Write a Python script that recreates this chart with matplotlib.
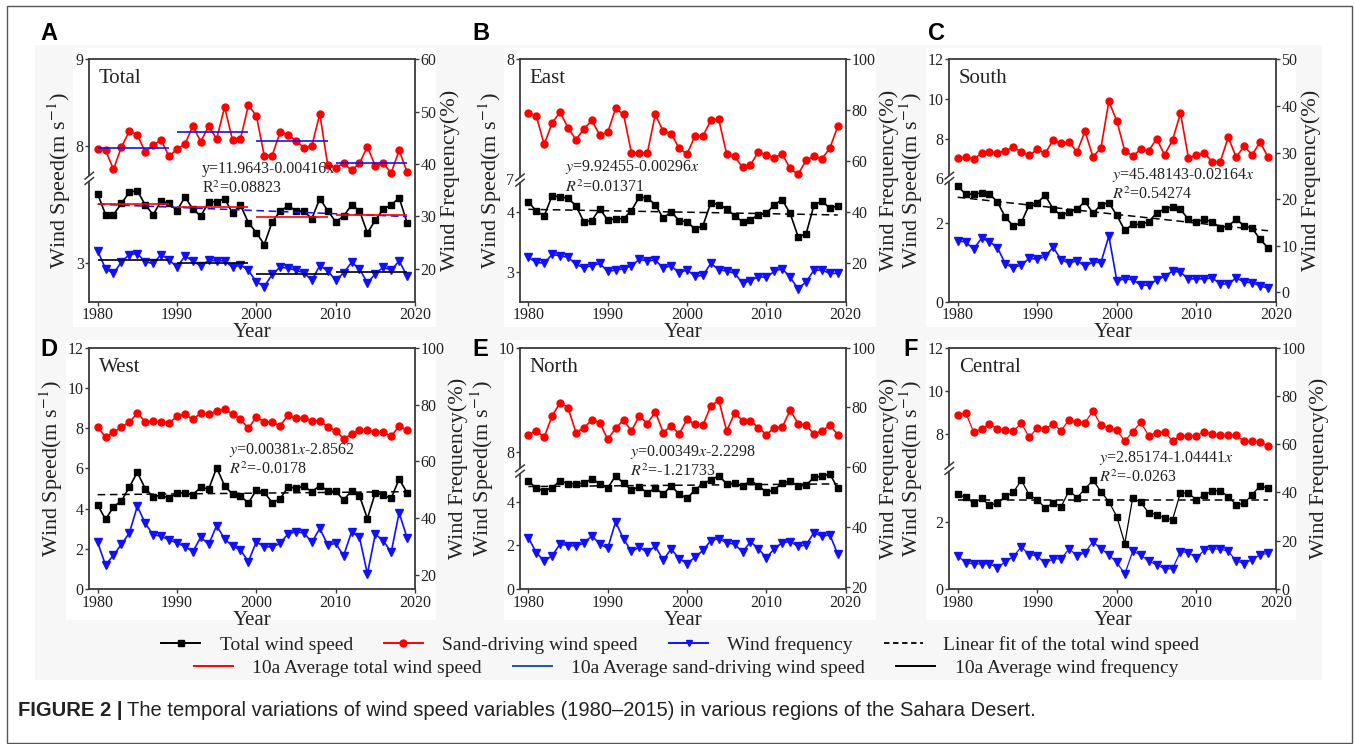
import numpy as np
import matplotlib
matplotlib.use("Agg")
import matplotlib.pyplot as plt
from matplotlib.lines import Line2D
from matplotlib.patches import Rectangle

plt.rcParams['font.family'] = ['Liberation Serif', 'DejaVu Serif']
plt.rcParams['mathtext.fontset'] = 'stix'

# ---------------- data ----------------
years = np.arange(1980, 2020)
fit_years = [1980, 2019]
decade_start = [1980, 1990, 2000, 2010]
decade_end = [1989, 1999, 2009, 2019]

# A Total
sand_A = [7.965, 7.95, 7.73, 7.99, 8.17, 8.13, 7.93, 8.01, 8.07, 7.88,
          7.965, 8.02, 8.23, 8.05, 8.23, 8.08, 8.45, 8.07, 8.08, 8.47,
          8.35, 7.89, 7.89, 8.16, 8.13, 8.06, 7.98, 8.0, 8.37, 7.78,
          7.75, 7.80, 7.72, 7.80, 7.99, 7.77, 7.80, 7.69, 7.95, 7.70]
total_A = [3.86, 3.60, 3.60, 3.74, 3.88, 3.90, 3.72, 3.60, 3.77, 3.74,
           3.65, 3.82, 3.67, 3.58, 3.76, 3.76, 3.80, 3.62, 3.72, 3.50,
           3.375, 3.225, 3.51, 3.64, 3.71, 3.65, 3.64, 3.55, 3.80, 3.65,
           3.51, 3.58, 3.72, 3.65, 3.37, 3.53, 3.67, 3.72, 3.81, 3.50]
freq_A = [23.4, 20.0, 19.1, 21.3, 22.7, 22.9, 21.3, 21.0, 22.7, 21.7,
          20.3, 22.4, 21.5, 20.5, 21.6, 21.5, 21.5, 20.3, 20.7, 19.7,
          17.5, 16.6, 18.9, 20.3, 20.1, 19.7, 19.2, 17.8, 20.6, 19.6,
          17.8, 19.2, 21.2, 20.0, 17.3, 19.0, 20.3, 19.7, 21.5, 18.6]
fit_A = [3.73, 3.575]
avg10_total_A = [3.73, 3.69, 3.575, 3.60]
avg10_sand_A = [7.98, 8.16, 8.06, 7.80]
avg10_freq_A = [21.65, 21.1, 19.05, 19.4]

# B East
sand_B = [7.55, 7.53, 7.29, 7.47, 7.56, 7.43, 7.33, 7.42, 7.49, 7.37,
          7.39, 7.59, 7.54, 7.22, 7.22, 7.22, 7.54, 7.40, 7.38, 7.26,
          7.21, 7.36, 7.36, 7.49, 7.50, 7.21, 7.19, 7.10, 7.12, 7.23,
          7.20, 7.18, 7.21, 7.09, 7.04, 7.16, 7.19, 7.17, 7.26, 7.44]
total_B = [4.18, 4.02, 3.94, 4.28, 4.26, 4.24, 4.11, 3.84, 3.86, 4.06,
           3.87, 3.89, 3.89, 4.03, 4.26, 4.24, 4.13, 3.90, 4.01, 3.86,
           3.84, 3.72, 3.77, 4.16, 4.13, 4.06, 3.94, 3.84, 3.87, 3.96,
           3.98, 4.13, 4.21, 3.98, 3.59, 3.63, 4.12, 4.19, 4.07, 4.11]
freq_B = [22.4, 20.4, 20.1, 23.5, 23.0, 22.4, 19.6, 18.4, 19.1, 20.0,
          16.9, 17.4, 17.9, 19.1, 21.6, 21.0, 21.3, 18.2, 19.1, 16.3,
          17.5, 15.0, 15.3, 20.0, 17.6, 17.0, 16.2, 12.2, 13.3, 14.8,
          14.5, 16.9, 18.0, 14.5, 10.1, 12.7, 17.4, 17.4, 16.1, 16.1]
fit_B = [4.05, 3.955]

# C South
sand_C = [7.04, 7.06, 6.97, 7.26, 7.33, 7.28, 7.39, 7.56, 7.33, 7.16,
          7.46, 7.26, 7.93, 7.76, 7.83, 7.33, 8.37, 7.08, 7.53, 9.88,
          8.89, 7.38, 7.13, 7.46, 7.38, 8.0, 7.18, 7.93, 9.28, 7.03,
          7.16, 7.26, 6.84, 6.84, 8.07, 7.06, 7.63, 7.18, 7.83, 7.06]
total_C = [2.93, 2.73, 2.73, 2.76, 2.73, 2.53, 2.14, 1.92, 2.01, 2.46,
           2.51, 2.70, 2.35, 2.19, 2.28, 2.34, 2.55, 2.24, 2.46, 2.51,
           2.19, 1.81, 1.96, 1.96, 2.03, 2.25, 2.35, 2.41, 2.34, 2.09,
           2.03, 2.09, 2.02, 1.88, 1.92, 2.09, 1.93, 1.86, 1.59, 1.36]
freq_C = [11.1, 10.8, 9.3, 11.6, 10.9, 9.6, 6.1, 5.3, 5.9, 7.3,
          7.1, 7.7, 9.7, 7.0, 6.3, 6.8, 5.6, 6.5, 6.4, 12.1,
          2.5, 2.9, 2.7, 1.6, 1.5, 2.7, 3.4, 4.6, 4.3, 2.9,
          2.9, 2.9, 3.1, 1.8, 1.8, 3.1, 2.2, 2.1, 1.4, 0.9]
fit_C = [2.65, 1.80]

# D West
sand_D = [8.04, 7.56, 7.79, 8.06, 8.29, 8.75, 8.32, 8.35, 8.30, 8.25,
          8.59, 8.69, 8.44, 8.74, 8.69, 8.83, 8.95, 8.69, 8.45, 7.99,
          8.55, 8.32, 8.29, 8.12, 8.64, 8.49, 8.50, 8.37, 8.37, 8.07,
          7.87, 7.48, 7.69, 7.89, 7.89, 7.82, 7.79, 7.59, 8.11, 7.89]
total_D = [4.18, 3.46, 4.09, 4.38, 5.07, 5.80, 4.99, 4.59, 4.67, 4.51,
           4.76, 4.79, 4.69, 5.06, 4.97, 6.03, 5.14, 4.71, 4.62, 4.28,
           4.92, 4.81, 4.29, 4.48, 5.07, 5.02, 5.11, 4.84, 5.14, 4.89,
           4.86, 4.43, 4.87, 4.64, 3.50, 4.79, 4.67, 4.51, 5.47, 4.79]
freq_D = [31.5, 23.5, 27.0, 30.8, 34.8, 44.2, 38.2, 34.1, 33.7, 32.3,
          31.3, 30.0, 28.2, 33.3, 30.8, 37.4, 32.7, 30.2, 28.8, 24.7,
          31.7, 29.9, 29.9, 31.1, 34.5, 35.2, 34.8, 31.5, 36.4, 30.6,
          31.1, 26.8, 35.1, 33.3, 20.4, 34.4, 32.1, 28.0, 41.9, 33.1]
fit_D = [4.69, 4.84]

# E North
sand_E = [8.33, 8.40, 8.28, 8.69, 8.94, 8.85, 8.37, 8.46, 8.61, 8.56,
          8.24, 8.45, 8.61, 8.40, 8.69, 8.54, 8.77, 8.37, 8.50, 8.34,
          8.62, 8.53, 8.51, 8.88, 8.99, 8.40, 8.74, 8.60, 8.60, 8.46,
          8.33, 8.46, 8.47, 8.80, 8.54, 8.51, 8.34, 8.40, 8.51, 8.33]
total_E = [4.95, 4.61, 4.50, 4.63, 4.96, 4.82, 4.82, 4.84, 5.04, 4.82,
           4.61, 5.18, 4.84, 4.53, 4.69, 4.38, 4.63, 4.34, 4.72, 4.34,
           4.15, 4.53, 4.82, 4.99, 5.18, 4.82, 4.84, 4.70, 4.96, 4.73,
           4.43, 4.53, 4.87, 4.92, 4.72, 4.75, 5.11, 5.16, 5.27, 4.60]
freq_E = [36.4, 31.4, 28.6, 30.3, 34.3, 33.7, 33.7, 34.5, 37.0, 34.3,
          32.8, 41.7, 35.9, 31.8, 33.2, 31.5, 33.5, 28.9, 32.6, 29.4,
          27.7, 29.8, 32.1, 35.4, 36.1, 34.7, 34.2, 31.6, 35.0, 32.7,
          29.6, 32.7, 34.7, 35.1, 33.5, 33.9, 38.1, 36.8, 37.4, 30.8]
fit_E = [4.69, 4.81]

# F Central
sand_F = [8.89, 9.0, 8.12, 8.25, 8.46, 8.26, 8.18, 8.15, 8.51, 7.86,
          8.31, 8.26, 8.48, 8.17, 8.68, 8.55, 8.54, 9.08, 8.43, 8.28,
          8.18, 7.69, 8.12, 8.55, 7.94, 8.08, 8.11, 7.69, 7.94, 7.94,
          7.94, 8.12, 8.0, 7.95, 7.95, 7.97, 7.68, 7.68, 7.66, 7.46]
total_F = [2.81, 2.72, 2.55, 2.69, 2.48, 2.56, 2.75, 2.87, 3.23, 2.79,
           2.65, 2.40, 2.56, 2.44, 2.92, 2.71, 2.97, 3.23, 2.89, 2.59,
           2.15, 1.35, 2.71, 2.57, 2.26, 2.21, 2.10, 2.06, 2.86, 2.84,
           2.65, 2.79, 2.91, 2.92, 2.74, 2.50, 2.54, 2.80, 3.06, 2.99]
freq_F = [13.8, 10.9, 10.4, 10.4, 10.4, 8.8, 11.3, 13.4, 17.5, 14.2,
          13.7, 10.6, 12.6, 12.4, 16.7, 13.7, 15.1, 19.6, 16.7, 14.2,
          11.0, 6.2, 15.6, 14.2, 11.5, 10.1, 8.4, 8.4, 15.5, 15.1,
          12.8, 16.2, 16.6, 16.6, 15.6, 11.7, 10.5, 12.2, 14.2, 14.8]
fit_F = [2.65, 2.65]

region_names = ['Total', 'East', 'South', 'West', 'North', 'Central']
panel_letters = ['A', 'B', 'C', 'D', 'E', 'F']
eq_lines = [
    ("y=11.9643-0.00416x", "R$^2$=0.08823"),
    ("$y$=9.92455-0.00296$x$", "$R^2$=0.01371"),
    ("$y$=45.48143-0.02164$x$", "$R^2$=0.54274"),
    ("$y$=0.00381$x$-2.8562", "$R^2$=-0.0178"),
    ("$y$=0.00349$x$-2.2298", "$R^2$=-1.21733"),
    ("$y$=2.85174-1.04441$x$", "$R^2$=-0.0263"),
]

sand_all = [sand_A, sand_B, sand_C, sand_D, sand_E, sand_F]
total_all = [total_A, total_B, total_C, total_D, total_E, total_F]
freq_all = [freq_A, freq_B, freq_C, freq_D, freq_E, freq_F]
fit_all = [fit_A, fit_B, fit_C, fit_D, fit_E, fit_F]

# ---------------- layout / style ----------------
W, H = 1354, 744
fig = plt.figure(figsize=(W / 100, H / 100), dpi=100)
fig.patch.set_facecolor('white')


def px_rect(x0, y0, x1, y1):
    return [x0 / W, 1 - y1 / H, (x1 - x0) / W, (y1 - y0) / H]


# background
fig.patches.append(Rectangle((35 / W, 1 - 680 / H), (1322 - 35) / W, (680 - 45) / H,
                             transform=fig.transFigure, facecolor='#f7f7f7',
                             edgecolor='none', zorder=-10))
for (x0, y0, x1, y1) in [(73, 48, 436, 327), (504, 48, 876, 327), (926, 48, 1296, 327),
                         (66, 340, 436, 620), (504, 340, 876, 620), (926, 340, 1296, 620)]:
    fig.patches.append(Rectangle((x0 / W, 1 - y1 / H), (x1 - x0) / W, (y1 - y0) / H,
                                 transform=fig.transFigure, facecolor='white',
                                 edgecolor='none', zorder=-9))
# outer border
fig.patches.append(Rectangle((7 / W, 1 / H), (1352 - 7) / W, (738 - 1) / H,
                             transform=fig.transFigure, facecolor='none',
                             edgecolor='#555555', lw=1.0, zorder=-8))

axes_px = [(89.3, 59.3, 415, 301.7), (520, 59.3, 845.7, 301.7), (949.3, 59.3, 1276, 301.7),
           (89.3, 347.7, 415, 589), (520, 347.7, 845.7, 589), (949.3, 347.7, 1276, 589)]
letter_px = [(40, 34), (472, 34), (928, 34), (40, 350), (472, 350), (903, 350)]

# left axis broken-scale settings: (lo0, hi0, lo1, hi1, break_fraction)
left_scale = [(2.51, 4.054, 7.627, 9.0, 0.509),
              (2.49, 4.545, 6.994, 8.0, 0.502),
              (0.0, 3.13, 6.0, 12.0, 0.509),
              None,
              (0.0, 5.4, 7.63, 10.0, 0.489),
              (0.0, 3.58, 6.43, 12.0, 0.5)]
left_lin = [None, None, None, (0, 12), None, None]
left_ticks = [[3, 8, 9], [3, 4, 7, 8], [0, 2, 6, 8, 10, 12], [0, 2, 4, 6, 8, 10, 12],
              [0, 2, 4, 8, 10], [0, 2, 8, 10, 12]]
right_lim = [(13.7, 60), (5, 100), (-2, 50), (15.07, 100), (19.2, 100), (0, 100)]
right_ticks = [[20, 30, 40, 50, 60], [20, 40, 60, 80, 100], [0, 10, 20, 30, 40, 50],
               [20, 40, 60, 80, 100], [20, 40, 60, 80, 100], [0, 20, 40, 60, 80, 100]]
eq_pos = [(0.346, 0.547, 0.465), (0.138, 0.556, 0.470), (0.497, 0.523, 0.443),
          (0.429, 0.576, 0.496), (0.338, 0.567, 0.486), (0.458, 0.544, 0.461)]

SPINE = '#3a3a3a'
RED = '#ff0000'
BLUE = '#1010ff'


def make_break_scale(lo0, hi0, lo1, hi1, bf):
    def fwd(v):
        v = np.asarray(v, dtype=float)
        a = (v - lo0) / (hi0 - lo0) * bf
        b = bf + (v - lo1) / (hi1 - lo1) * (1 - bf)
        return np.where(v <= hi0, a, np.where(v >= lo1, b, bf))

    def inv(u):
        u = np.asarray(u, dtype=float)
        a = lo0 + u / bf * (hi0 - lo0)
        b = lo1 + (u - bf) / (1 - bf) * (hi1 - lo1)
        return np.where(u <= bf, a, b)
    return fwd, inv


for i in range(6):
    x0, y0, x1, y1 = axes_px[i]
    ax = fig.add_axes(px_rect(x0, y0, x1, y1))
    ax.patch.set_facecolor('white')
    ax2 = ax.twinx()
    lw = 0.9 if i == 5 else 1.2

    if left_scale[i] is not None:
        lo0, hi0, lo1, hi1, bf = left_scale[i]
        fwd, inv = make_break_scale(lo0, hi0, lo1, hi1, bf)
        ax.set_yscale('function', functions=(fwd, inv))
        ax.set_ylim(lo0, hi1)
    else:
        ax.set_ylim(*left_lin[i])
    ax.set_xlim(1978.95, 2020)
    ax2.set_ylim(*right_lim[i])

    ax.plot(years, sand_all[i], color=RED, marker='o', ms=5, lw=lw, zorder=3)
    ax.plot(years, total_all[i], color='black', marker='s', ms=4.3, lw=lw, zorder=3)
    ax2.plot(years, freq_all[i], color=BLUE, marker='v', ms=5.5, lw=lw, zorder=3)
    fit_color = BLUE if i == 0 else 'black'
    ax.plot(fit_years, fit_all[i], color=fit_color, ls=(0, (5, 3)), lw=1.1, zorder=4)

    if i == 0:
        ax.hlines(avg10_total_A, decade_start, decade_end, color=RED, lw=1.2, zorder=4)
        ax.hlines(avg10_sand_A, decade_start, decade_end, color=BLUE, lw=1.2, zorder=4)
        ax2.hlines(avg10_freq_A, decade_start, decade_end, color='black', lw=1.2, zorder=4)

    ax.set_yticks(left_ticks[i])
    ax.set_yticklabels([str(t) for t in left_ticks[i]])
    ax2.set_yticks(right_ticks[i])
    ax.set_xticks([1980, 1990, 2000, 2010, 2020])
    ax.minorticks_off()
    ax2.minorticks_off()

    for a in (ax, ax2):
        a.tick_params(direction='out', length=3, width=1, color=SPINE,
                      labelsize=11.5, pad=1, labelcolor='#222222')
        for s in a.spines.values():
            s.set_color(SPINE)
            s.set_linewidth(1.3)
    for s in ('left', 'top', 'bottom'):
        ax2.spines[s].set_visible(False)
    ax.spines['right'].set_visible(False)

    ax.set_xlabel('Year', fontsize=15, labelpad=0, color='#222222')
    ax.set_ylabel('Wind Speed(m s$^{-1}$)', fontsize=16, labelpad=2, color='#222222')
    ax2.set_ylabel('Wind Frequency(%)', fontsize=16, labelpad=3, color='#222222')

    ax.text(0.03, 0.92, region_names[i], transform=ax.transAxes, fontsize=15,
            ha='left', va='center', color='#222222')
    ex, ey1, ey2 = eq_pos[i]
    ax.text(ex, ey1, eq_lines[i][0], transform=ax.transAxes, fontsize=11.5,
            ha='left', va='center', color='#222222', zorder=6)
    ax.text(ex, ey2, eq_lines[i][1], transform=ax.transAxes, fontsize=11.5,
            ha='left', va='center', color='#222222', zorder=6)

    # axis break marks
    if left_scale[i] is not None:
        bf = left_scale[i][4]
        ax.add_patch(Rectangle((-0.01, bf - 0.009), 0.02, 0.018, transform=ax.transAxes,
                               facecolor='white', edgecolor='none', clip_on=False, zorder=5))
        for c in (bf - 0.011, bf + 0.011):
            ax.plot([-0.013, 0.013], [c - 0.014, c + 0.014], transform=ax.transAxes,
                    color=SPINE, lw=1.1, clip_on=False, zorder=6)

    lx, ly = letter_px[i]
    fig.text(lx / W, 1 - ly / H, panel_letters[i], fontsize=17, fontweight='bold',
             family='Liberation Sans', ha='left', va='center')

# legends
h1 = [Line2D([], [], color='black', marker='s', ms=4, lw=1.4),
      Line2D([], [], color=RED, marker='o', ms=5, lw=1.4),
      Line2D([], [], color=BLUE, marker='v', ms=5, lw=1.4),
      Line2D([], [], color='black', ls=(0, (3, 2)), lw=1.3)]
l1 = ['Total wind speed', 'Sand-driving wind speed', 'Wind frequency',
      'Linear fit of the total wind speed']
h2 = [Line2D([], [], color=RED, lw=1.4),
      Line2D([], [], color='#2050c0', lw=1.4),
      Line2D([], [], color='black', lw=1.4)]
l2 = ['10a Average total wind speed', '10a Average sand-driving wind speed',
      '10a Average wind frequency']
leg1 = fig.legend(h1, l1, loc='center', bbox_to_anchor=(680 / W, 1 - 645 / H), ncol=4,
                  frameon=False, fontsize=14, handlelength=2.0, handletextpad=1.0,
                  columnspacing=1.6, borderpad=0, borderaxespad=0)
leg2 = fig.legend(h2, l2, loc='center', bbox_to_anchor=(686 / W, 1 - 668 / H), ncol=3,
                  frameon=False, fontsize=14, handlelength=2.0, handletextpad=1.0,
                  columnspacing=1.6, borderpad=0, borderaxespad=0)
for t in leg1.get_texts() + leg2.get_texts():
    t.set_color('#222222')

# caption
cap1 = fig.text(18 / W, 1 - 711 / H, 'FIGURE 2 |', fontsize=14.5, fontweight='bold',
                family='Liberation Sans', ha='left', va='center', color='#222222')
fig.canvas.draw()
bb = cap1.get_window_extent(renderer=fig.canvas.get_renderer())
fig.text(bb.x1 / W + 5 / W, 1 - 711 / H,
         'The temporal variations of wind speed variables (1980\u20132015) in various regions of the Sahara Desert.',
         fontsize=14.5, family='Liberation Sans', ha='left', va='center', color='#222222')

fig.savefig('out.png', dpi=100)
